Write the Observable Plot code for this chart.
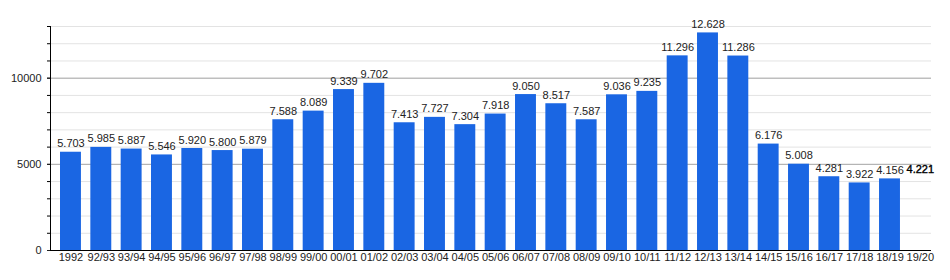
<!DOCTYPE html>
<html>
<head>
<meta charset="utf-8">
<script src="https://cdn.jsdelivr.net/npm/d3@7"></script>
<script src="https://cdn.jsdelivr.net/npm/@observablehq/plot@0.6"></script>
<style>
  html, body { margin: 0; padding: 0; background: #fff; }
  #chart svg { display: block; }
</style>
</head>
<body>
<div id="chart"></div>
<script>
const categories = ["1992","92/93","93/94","94/95","95/96","96/97","97/98","98/99","99/00","00/01",
  "01/02","02/03","03/04","04/05","05/06","06/07","07/08","08/09","09/10","10/11",
  "11/12","12/13","13/14","14/15","15/16","16/17","17/18","18/19","19/20"];
const values = [5703,5985,5887,5546,5920,5800,5879,7588,8089,9339,
  9702,7413,7727,7304,7918,9050,8517,7587,9036,9235,
  11296,12628,11286,6176,5008,4281,3922,4156,4221];
const noBar = ["19/20"];
const yMinorTicks = d3.range(0, 13001, 1000);
const yMajorTicks = [0, 5000, 10000];
const yMajorGrid = [5000, 10000];

const data = categories.map((c, i) => ({cat: c, value: values[i]}));
const barData = data.filter(d => !noBar.includes(d.cat));
const labelData = data.filter(d => !noBar.includes(d.cat));
const boldData = data.filter(d => noBar.includes(d.cat));

const de = d3.formatLocale({decimal: ",", thousands: ".", grouping: [3], currency: ["", " €"]});
const fmt = de.format(",d");

const font = "'Liberation Sans', Arial, sans-serif";

const chart = Plot.plot({
  width: 950,
  height: 280,
  marginTop: 26,
  marginBottom: 30,
  marginLeft: 50,
  marginRight: 19,
  style: {fontFamily: font, fontSize: "11px", color: "#222", background: "#fff"},
  x: {type: "band", domain: categories, range: [50.6, 939.7], padding: 0.31, round: false, label: null},
  y: {domain: [0, 13000], label: null},
  marks: [
    Plot.gridY(yMinorTicks, {stroke: "#e3e3e3", strokeOpacity: 1}),
    Plot.gridY(yMajorGrid, {stroke: "#aaaaaa", strokeOpacity: 1}),
    Plot.barY(barData, {x: "cat", y: "value", fill: "#1a66e3"}),
    Plot.text(labelData, {x: "cat", y: "value", text: d => fmt(d.value), dy: -8.5, fill: "#222", fontSize: 11}),
    Plot.text(boldData, {x: "cat", y: "value", text: d => fmt(d.value), dy: -8.5, fill: "#000", stroke: "#000", strokeWidth: 0.4, fontSize: 11}),
    Plot.ruleY([0], {stroke: "#000", strokeWidth: 1}),
    Plot.frame({anchor: "left", stroke: "#000"}),
    Plot.axisY(yMinorTicks, {tickSize: 3, text: null, stroke: "#000"}),
    Plot.axisY(yMajorTicks, {tickSize: 3, tickPadding: 6, tickFormat: d => String(d), fill: "#222", fontSize: 11}),
    Plot.axisX({tickSize: 0, tickPadding: 3, fill: "#222", fontSize: 11})
  ]
});
document.getElementById("chart").appendChild(chart);
</script>
</body>
</html>
